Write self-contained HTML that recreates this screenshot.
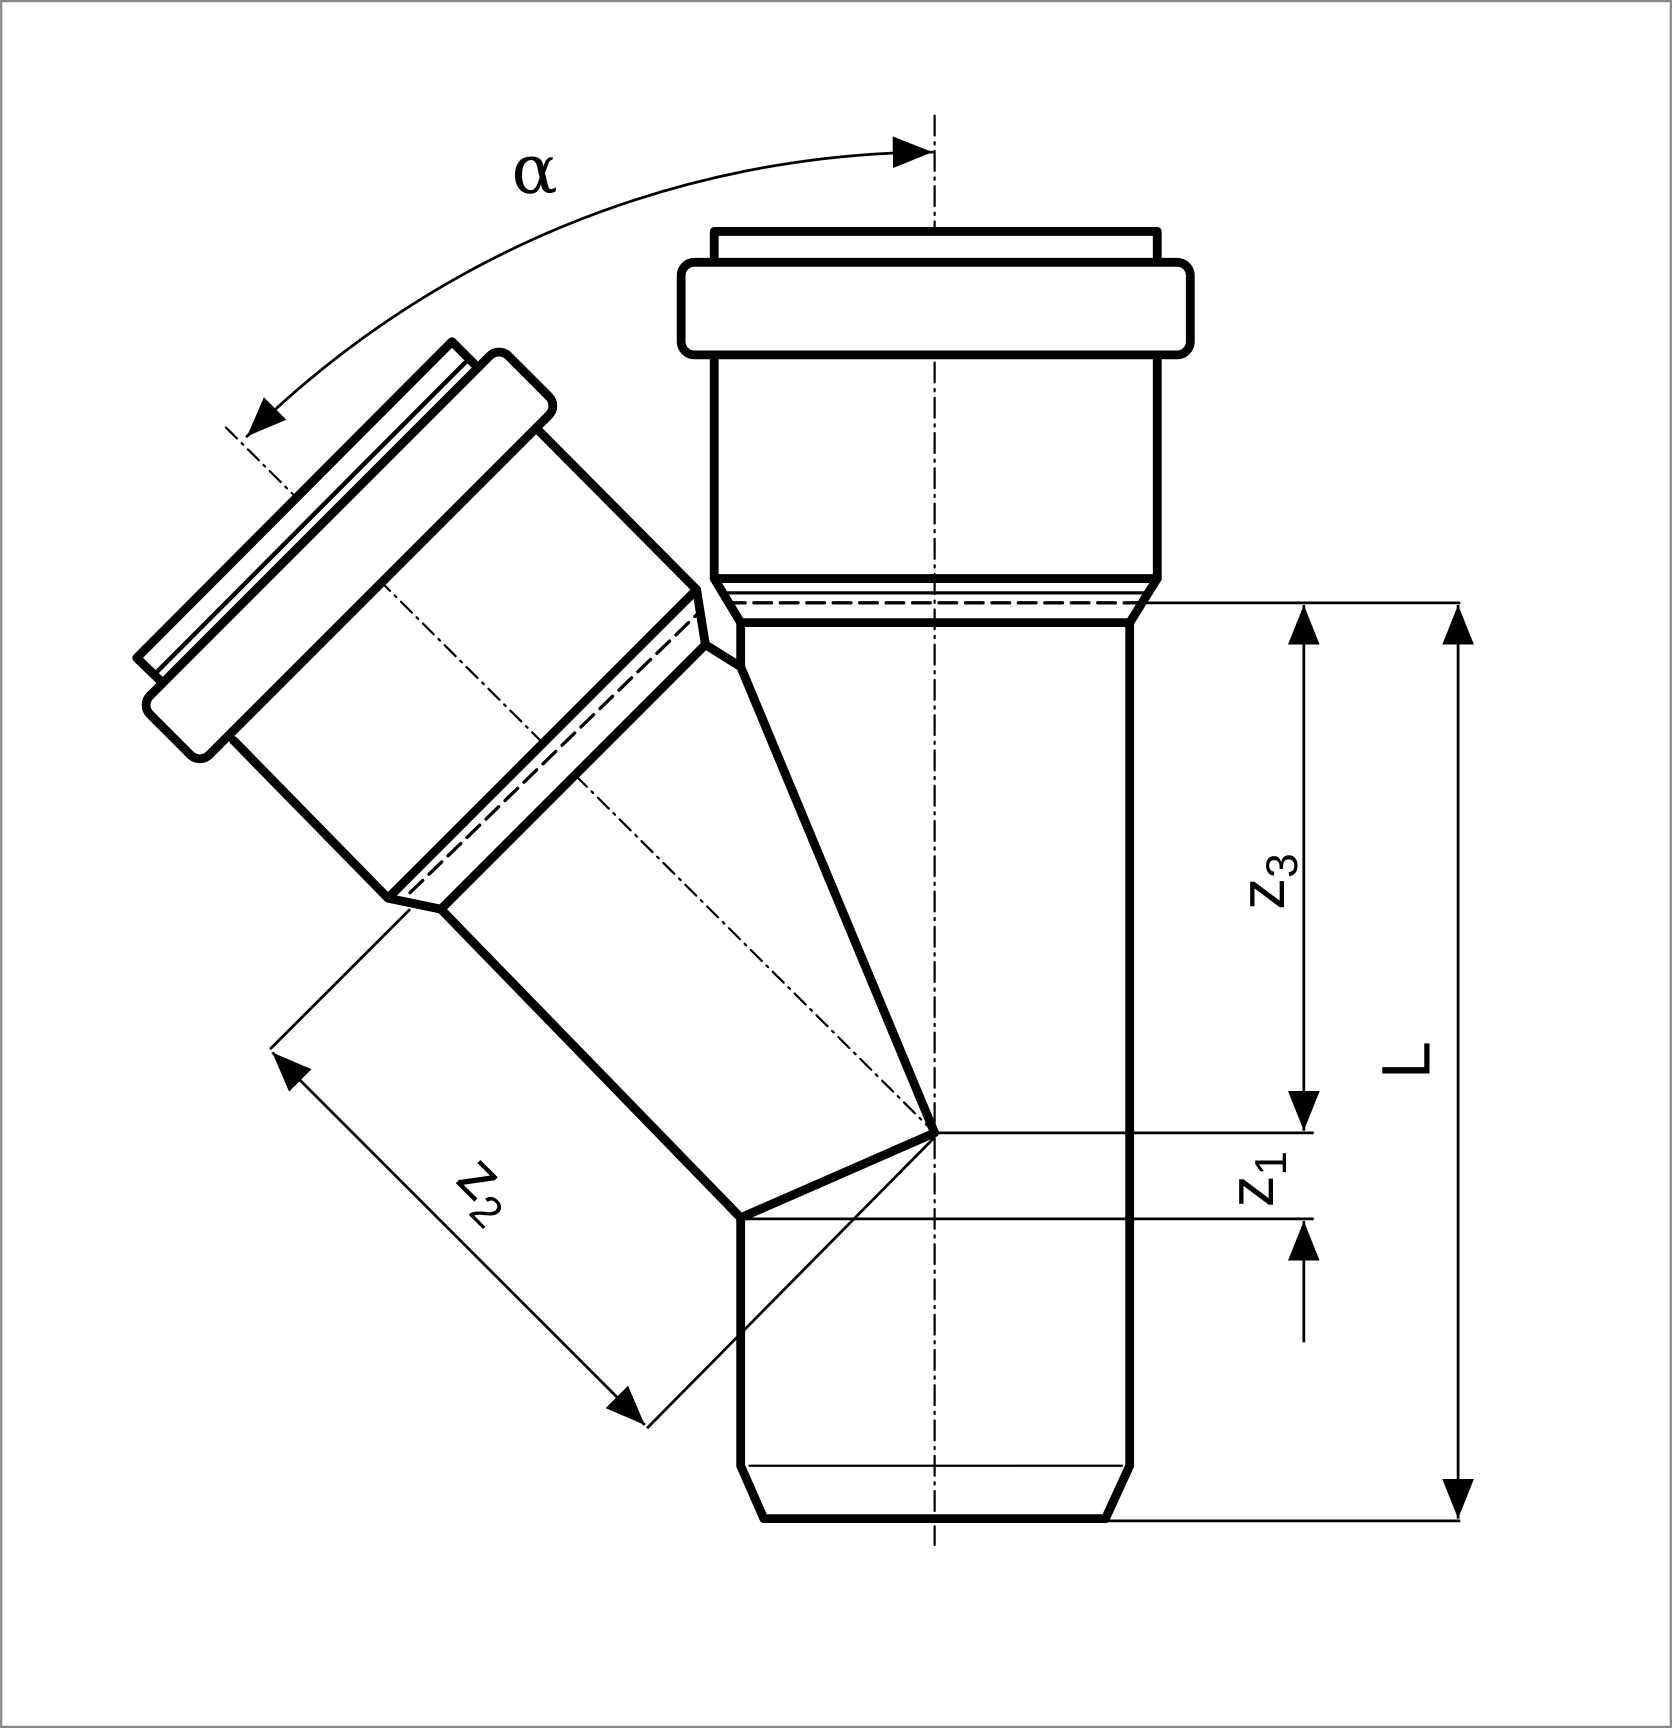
<!DOCTYPE html>
<html><head><style>html,body{margin:0;padding:0;background:#fff}svg{display:block}</style></head>
<body>
<svg width="1672" height="1728" viewBox="0 0 1517 1568" xmlns="http://www.w3.org/2000/svg">
<defs>
<marker id="ar" viewBox="0 0 10 10" refX="10" refY="5" markerWidth="36" markerHeight="36" markerUnits="userSpaceOnUse" orient="auto-start-reverse">
<path d="M0,1 L10,5 L0,9 z" fill="#000"/></marker>
</defs>
<rect x="1" y="1" width="1515" height="1566" fill="#fff" stroke="#888" stroke-width="2"/>
<g fill="none" stroke="#000" stroke-linejoin="round" stroke-linecap="round">
<line x1="848" y1="105" x2="848" y2="1402" stroke-width="2" stroke-dasharray="18,6,2,6"/>
<line x1="205" y1="388" x2="848" y2="1028" stroke-width="2" stroke-dasharray="14,6,2,6"/>
<path d="M846,138 A890,890 0 0 0 224,396" stroke-width="2.5" marker-start="url(#ar)" marker-end="url(#ar)"/>
<rect x="648" y="210" width="402" height="30" stroke-width="8" fill="#fff"/>
<rect x="618" y="238" width="462" height="84" rx="12" stroke-width="8" fill="#fff"/>
<path d="M648,322 L648,525 L1050,525 L1050,322" stroke-width="8"/>
<path d="M648,525 L672,565 L1025,565 L1050,525" stroke-width="8"/>
<line x1="660" y1="547" x2="1038" y2="547" stroke-width="3" stroke-dasharray="16,8"/>
<line x1="660" y1="538" x2="1040" y2="538" stroke-width="3"/>
<path d="M672,565 L672,605" stroke-width="8"/>
<path d="M1025,565 L1025,1330 L1003,1378 L693,1378 L672,1330 L672,1105" stroke-width="8"/>
<line x1="680" y1="1330" x2="1018" y2="1330" stroke-width="2"/>
<path d="M640,585 L672,605 L848,1028 L672,1105 L400,825" stroke-width="8"/>
<path d="M400,825 L352,815 L632,535 L640,585 Z" stroke-width="8" fill="#fff"/>
<line x1="372" y1="810" x2="635" y2="555" stroke-width="3" stroke-dasharray="16,8"/>
<line x1="212" y1="672" x2="352" y2="815" stroke-width="8"/>
<line x1="488" y1="390" x2="632" y2="535" stroke-width="8"/>
<polygon points="124,597 410,310 438,338 152,624" stroke-width="8" fill="#fff"/>
<line x1="140" y1="612" x2="425" y2="326" stroke-width="4"/>
<rect x="-230" y="-38" width="460" height="76" rx="12" stroke-width="8" fill="#fff" transform="translate(317,504) rotate(-45)"/>
<g stroke-width="2.5" stroke-linecap="butt">
<line x1="1040" y1="547" x2="1325" y2="547"/>
<line x1="1005" y1="1380" x2="1325" y2="1380"/>
<line x1="1323" y1="549" x2="1323" y2="1378" marker-start="url(#ar)" marker-end="url(#ar)"/>
<line x1="1183" y1="549" x2="1183" y2="1026" marker-start="url(#ar)" marker-end="url(#ar)"/>
<line x1="848" y1="1028" x2="1192" y2="1028"/>
<line x1="672" y1="1106" x2="1192" y2="1106"/>
<line x1="1183" y1="1218" x2="1183" y2="1108" marker-end="url(#ar)"/>
<line x1="245" y1="952" x2="372" y2="825"/>
<line x1="587" y1="1296" x2="848" y2="1032"/>
<line x1="247" y1="955" x2="585" y2="1293" marker-start="url(#ar)" marker-end="url(#ar)"/>
</g>
</g>
<g font-family="Liberation Sans, DejaVu Sans, sans-serif" fill="#000">
<text x="485" y="175" font-size="62" font-family="DejaVu Serif, serif" text-anchor="middle">α</text>
<text transform="translate(1165,800) rotate(-90)" font-size="58" text-anchor="middle">z<tspan font-size="40" dy="12">3</tspan></text>
<text transform="translate(1155,1070) rotate(-90)" font-size="58" text-anchor="middle">z<tspan font-size="40" dy="12">1</tspan></text>
<text transform="translate(1297,962) rotate(-90)" font-size="62" text-anchor="middle">L</text>
<text transform="translate(430,1090) rotate(45)" font-size="58" text-anchor="middle">z<tspan font-size="40" dy="12">2</tspan></text>
</g>
</svg>
</body></html>
